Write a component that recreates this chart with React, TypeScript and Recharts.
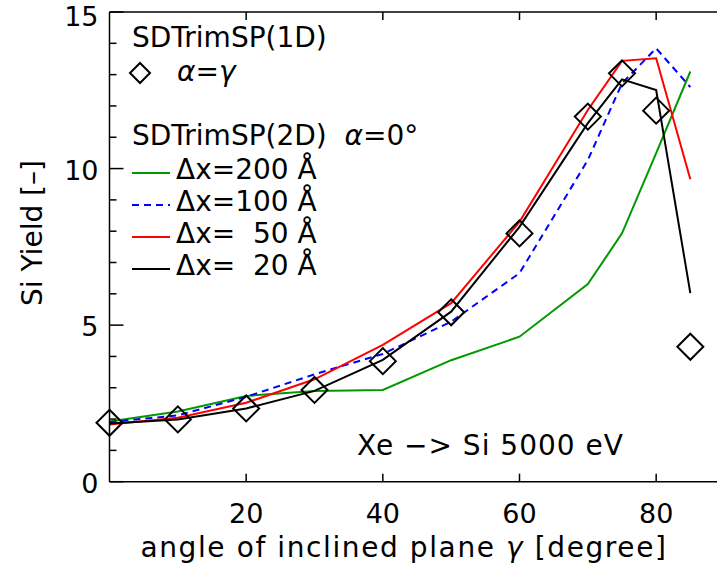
import React from "react";
import {
  ComposedChart,
  Line,
  Scatter,
  XAxis,
  YAxis,
} from "recharts";

const angles = [0, 10, 20, 30, 40, 50, 60, 70, 75, 80, 85];
const oneD = [1.88, 1.99, 2.34, 2.93, 3.85, 5.41, 7.93, 11.66, 13.04, 11.85, 4.31];
const dx200 = [1.92, 2.24, 2.74, 2.9, 2.93, 3.88, 4.63, 6.31, 7.93, 10.49, 13.1];
const dx100 = [1.9, 2.12, 2.71, 3.43, 4.08, 5.11, 6.66, 10.27, 12.72, 13.84, 12.6];
const dx50 = [1.83, 2.04, 2.52, 3.27, 4.37, 5.7, 8.3, 11.87, 13.44, 13.52, 9.66];
const dx20 = [1.86, 1.99, 2.34, 2.9, 3.89, 5.43, 8.14, 11.45, 12.85, 12.51, 6.02];

const xTicks = [20, 40, 60, 80];
const yTicks = [0, 1, 2, 3, 4, 5, 6, 7, 8, 9, 10, 11, 12, 13, 14, 15];

const legendLines = [
  { label: "Δx=200 Å", color: "#009900", dash: undefined as string | undefined },
  { label: "Δx=100 Å", color: "#0000ff", dash: "7 5" },
  { label: "Δx=  50 Å", color: "#ff0000", dash: undefined },
  { label: "Δx=  20 Å", color: "#000000", dash: undefined },
];

const data = angles.map((a, i) => ({
  angle: a,
  oneD: oneD[i],
  dx200: dx200[i],
  dx100: dx100[i],
  dx50: dx50[i],
  dx20: dx20[i],
}));

const FONT = "'DejaVu Sans', sans-serif";

const BottomTick = (props: any) => {
  const { x, y, payload } = props;
  return (
    <g>
      <line x1={x} y1={y} x2={x} y2={y - 8} stroke="#000" strokeWidth={1.5} />
      <text x={x} y={y + 41} textAnchor="middle" fontSize={27} fontFamily={FONT} fill="#000">
        {payload.value}
      </text>
    </g>
  );
};

const TopTick = (props: any) => {
  const { x, y } = props;
  return <line x1={x} y1={y} x2={x} y2={y + 8} stroke="#000" strokeWidth={1.5} />;
};

const LeftTick = (props: any) => {
  const { x, y, payload } = props;
  const major = payload.value % 5 === 0;
  return (
    <g>
      <line x1={x} y1={y} x2={x + (major ? 14 : 7)} y2={y} stroke="#000" strokeWidth={1.5} />
      {major && (
        <text x={x - 11} y={Math.max(y + 11, 26)} textAnchor="end" fontSize={27} fontFamily={FONT} fill="#000">
          {payload.value}
        </text>
      )}
    </g>
  );
};

const RightTick = (props: any) => {
  const { x, y, payload } = props;
  const major = payload.value % 5 === 0;
  return <line x1={x} y1={y} x2={x - (major ? 14 : 7)} y2={y} stroke="#000" strokeWidth={1.5} />;
};

const Diamond = (props: any) => {
  const { cx, cy } = props;
  if (cx == null || cy == null) return null;
  const r = 13;
  return (
    <path
      d={`M${cx},${cy - r} L${cx + r},${cy} L${cx},${cy + r} L${cx - r},${cy} Z`}
      fill="none"
      stroke="#000"
      strokeWidth={2}
    />
  );
};

export default function App() {
  return (
    <div
      style={{
        position: "absolute",
        left: 0,
        top: 0,
        width: 717,
        height: 571,
        overflow: "hidden",
        background: "#fff",
      }}
    >
      <ComposedChart
        width={800}
        height={571}
        data={data}
        margin={{ top: 11, right: 74.5, bottom: 59.3, left: 49.5 }}
      >
        <XAxis
          xAxisId="b"
          dataKey="angle"
          type="number"
          domain={[0, 90]}
          ticks={xTicks}
          tickSize={0}
          tickMargin={0}
          tickLine={false}
          tick={<BottomTick />}
          axisLine={{ stroke: "#000", strokeWidth: 1.5 }}
          height={30}
          interval={0}
        />
        <XAxis
          xAxisId="t"
          orientation="top"
          dataKey="angle"
          type="number"
          domain={[0, 90]}
          ticks={xTicks}
          tickSize={0}
          tickMargin={0}
          tickLine={false}
          tick={<TopTick />}
          axisLine={{ stroke: "#000", strokeWidth: 1.5 }}
          height={1}
          interval={0}
        />
        <YAxis
          yAxisId="l"
          type="number"
          domain={[0, 15]}
          ticks={yTicks}
          tickSize={0}
          tickMargin={0}
          tickLine={false}
          tick={<LeftTick />}
          axisLine={{ stroke: "#000", strokeWidth: 1.5 }}
          width={60}
          interval={0}
        />
        <YAxis
          yAxisId="r"
          orientation="right"
          type="number"
          domain={[0, 15]}
          ticks={yTicks}
          tickSize={0}
          tickMargin={0}
          tickLine={false}
          tick={<RightTick />}
          axisLine={{ stroke: "#000", strokeWidth: 1.5 }}
          width={1}
          interval={0}
        />
        <Line xAxisId="b" yAxisId="l" type="linear" dataKey="dx200" stroke="#009900" strokeWidth={2} dot={false} isAnimationActive={false} />
        <Line xAxisId="b" yAxisId="l" type="linear" dataKey="dx100" stroke="#0000ff" strokeWidth={2} strokeDasharray="7 5" dot={false} isAnimationActive={false} />
        <Line xAxisId="b" yAxisId="l" type="linear" dataKey="dx50" stroke="#ff0000" strokeWidth={2} dot={false} isAnimationActive={false} />
        <Line xAxisId="b" yAxisId="l" type="linear" dataKey="dx20" stroke="#000000" strokeWidth={2} dot={false} isAnimationActive={false} />
        <Scatter xAxisId="b" yAxisId="l" dataKey="oneD" shape={<Diamond />} isAnimationActive={false} />
      </ComposedChart>
      <svg
        width={717}
        height={571}
        style={{ position: "absolute", left: 0, top: 0, pointerEvents: "none" }}
        fontFamily={FONT}
      >
        <text x={132} y={47} fontSize={28} fill="#000">SDTrimSP(1D)</text>
        <path d="M140,63 L150,73 L140,83 L130,73 Z" fill="none" stroke="#000" strokeWidth={2} />
        <text x={177} y={81} fontSize={28} fill="#000">
          <tspan fontStyle="italic">α</tspan>=<tspan fontStyle="italic">γ</tspan>
        </text>
        <text x={132} y={145} fontSize={28} fill="#000" style={{ whiteSpace: "pre" }}>
          {"SDTrimSP(2D)  "}<tspan fontStyle="italic">α</tspan>=0°
        </text>
        {legendLines.map((l, i) => (
          <g key={l.label}>
            <line
              x1={132}
              x2={170}
              y1={173 + i * 32}
              y2={173 + i * 32}
              stroke={l.color}
              strokeWidth={2}
              strokeDasharray={l.dash}
            />
            <text x={176} y={179 + i * 32} fontSize={28} fill="#000" style={{ whiteSpace: "pre" }}>
              {l.label}
            </text>
          </g>
        ))}
        <text x={357} y={455} fontSize={28} fill="#000" letterSpacing={1} style={{ whiteSpace: "pre" }}>
          {"Xe −> Si 5000 eV"}
        </text>
        <text x={404} y={557} fontSize={28} fill="#000" textAnchor="middle" letterSpacing={1.6}>
          angle of inclined plane <tspan fontStyle="italic">γ</tspan> [degree]
        </text>
        <text
          x={0}
          y={0}
          fontSize={28}
          fill="#000"
          textAnchor="middle"
          transform="translate(42,233) rotate(-90)"
        >
          Si Yield [–]
        </text>
      </svg>
    </div>
  );
}
